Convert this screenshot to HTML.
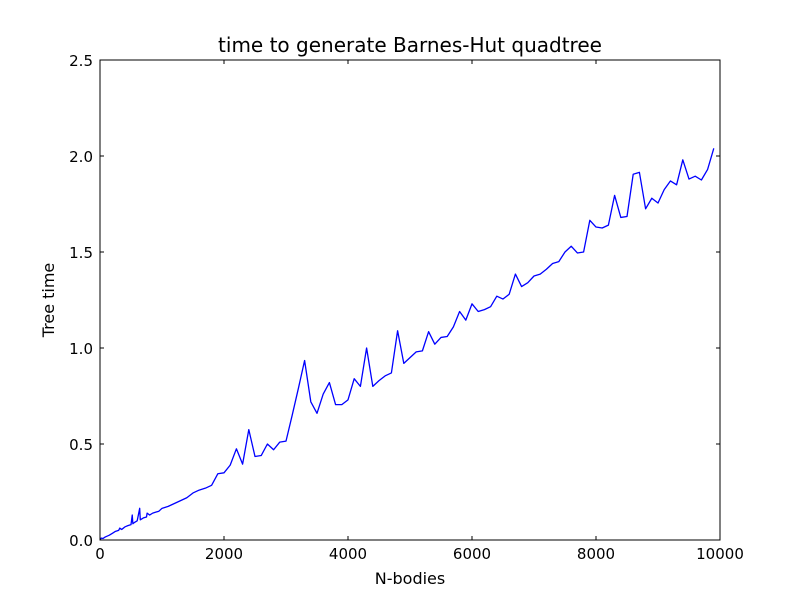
<!DOCTYPE html>
<html><head><meta charset="utf-8"><style>
body{margin:0;background:#fff;}
svg text{font-family:"DejaVu Sans","Liberation Sans",sans-serif;}
</style></head><body>
<svg id="chart" width="800" height="600" xmlns="http://www.w3.org/2000/svg">
<rect width="800" height="600" fill="#fff"/>
<text x="410" y="52" font-size="20" text-anchor="middle">time to generate Barnes-Hut quadtree</text>
<text x="410" y="584" font-size="16" text-anchor="middle">N-bodies</text>
<text x="54" y="300" font-size="16" text-anchor="middle" transform="rotate(-90 54 300)">Tree time</text>
<g id="ticks"></g>
<polyline id="series" fill="none" stroke="#0000ff" stroke-width="1.3" stroke-linejoin="round"/>
<rect x="100" y="60" width="620" height="480" fill="none" stroke="#000" stroke-width="1"/>
</svg>
<script>
const xTicks=[0,2000,4000,6000,8000,10000];
const yTicks=[0.0,0.5,1.0,1.5,2.0,2.5];
const nBodies=[0,20,50,80,100,150,200,250,300,320,350,400,450,500,520,530,550,600,640,650,700,750,760,800,850,900,950,1000,1100,1200,1300,1400,1500,1600,1700,1800,1900,2000,2100,2200,2300,2400,2500,2600,2700,2800,2900,3000,3100,3200,3300,3400,3500,3600,3700,3800,3900,4000,4100,4200,4300,4400,4500,4600,4700,4800,4900,5000,5100,5200,5300,5400,5500,5600,5700,5800,5900,6000,6100,6200,6300,6400,6500,6600,6700,6800,6900,7000,7100,7200,7300,7400,7500,7600,7700,7800,7900,8000,8100,8200,8300,8400,8500,8600,8700,8800,8900,9000,9100,9200,9300,9400,9500,9600,9700,9800,9900];
const treeTime=[0.0,0.01,0.008,0.015,0.018,0.025,0.035,0.045,0.05,0.062,0.055,0.068,0.075,0.08,0.13,0.085,0.09,0.1,0.165,0.105,0.115,0.12,0.14,0.13,0.14,0.145,0.15,0.165,0.175,0.19,0.205,0.22,0.245,0.26,0.27,0.285,0.345,0.35,0.39,0.475,0.395,0.575,0.435,0.44,0.5,0.47,0.51,0.515,0.65,0.79,0.935,0.72,0.66,0.76,0.82,0.705,0.705,0.73,0.84,0.8,1.0,0.8,0.83,0.855,0.87,1.09,0.92,0.95,0.98,0.985,1.085,1.02,1.055,1.06,1.11,1.19,1.145,1.23,1.19,1.2,1.215,1.27,1.255,1.28,1.385,1.32,1.34,1.375,1.385,1.41,1.44,1.45,1.5,1.53,1.495,1.5,1.665,1.63,1.625,1.64,1.795,1.68,1.685,1.905,1.915,1.725,1.78,1.755,1.825,1.87,1.85,1.98,1.88,1.895,1.875,1.93,2.04];
const X0=100,X1=720,Y0=540,Y1=60;
const sx=v=>X0+(v/10000)*(X1-X0);
const sy=v=>Y0-(v/2.5)*(Y0-Y1);
const NS='http://www.w3.org/2000/svg';
const g=document.getElementById('ticks');
function mk(tag,attrs){const e=document.createElementNS(NS,tag);for(const k in attrs)e.setAttribute(k,attrs[k]);g.appendChild(e);return e;}
xTicks.forEach(t=>{const x=sx(t);
 const a=mk('line',{x1:x,x2:x,y1:Y0,y2:Y0-4,stroke:'#000'});
 
 
 const b=mk('line',{x1:x,x2:x,y1:Y1,y2:Y1+4,stroke:'#000'});
 
 
 const l=mk('text',{x:x,y:Y0+19,'font-size':'15','text-anchor':'middle'});l.textContent=t;
 
 
});
yTicks.forEach(t=>{const y=sy(t);
 const a=mk('line',{x1:X0,x2:X0+4,y1:y,y2:y,stroke:'#000'});
 
 
 const b=mk('line',{x1:X1,x2:X1-4,y1:y,y2:y,stroke:'#000'});
 
 
 const l=mk('text',{x:X0-7,y:y+6,'font-size':'15','text-anchor':'end'});l.textContent=t.toFixed(1);
 
 
});
document.getElementById('series').setAttribute('points',nBodies.map((n,i)=>sx(n)+','+sy(treeTime[i])).join(' '));
</script>
</body></html>
